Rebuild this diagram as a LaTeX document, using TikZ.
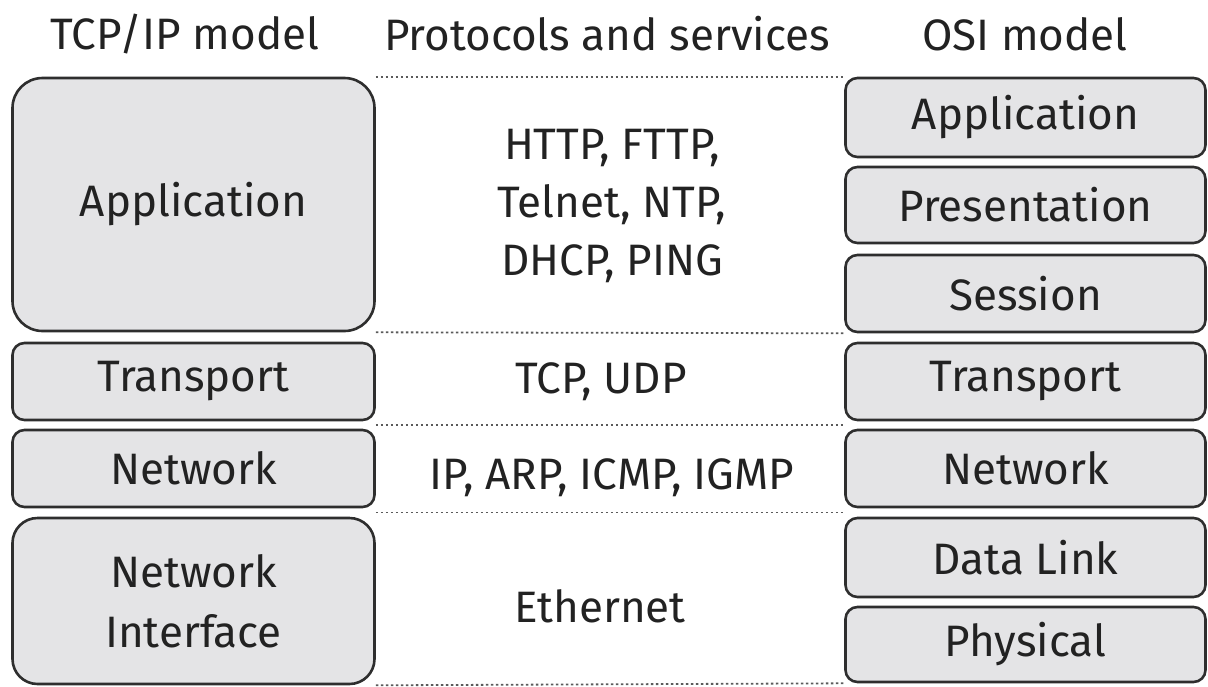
\documentclass[tikz,border=0pt]{standalone}
\usepackage{fontspec}
\setmainfont{Fira Sans}
\usetikzlibrary{calc}
\definecolor{boxfill}{HTML}{E4E4E6}
\definecolor{boxline}{HTML}{2E2E2E}
\definecolor{txt}{HTML}{222222}
\definecolor{dotline}{HTML}{5A5A5A}
\tikzset{
  layer/.style={draw=boxline, fill=boxfill, line width=2.6pt, rounded corners=12pt,
    inner sep=0pt, text=txt, font=\fontsize{44}{60}\selectfont, align=center},
  leftcol/.style={layer, minimum width=362pt},
  rightcol/.style={layer, minimum width=360pt},
  head/.style={text=txt, font=\fontsize{44}{54}\selectfont, inner sep=0pt},
  proto/.style={text=txt, font=\fontsize{44}{58}\selectfont, align=center, inner sep=0pt},
  sep/.style={draw=dotline, line width=1.8pt, dash pattern=on 2.5pt off 2.5pt}
}
\begin{document}
\begin{tikzpicture}[x=1pt, y=-1pt]
\useasboundingbox (0,0) rectangle (1208,686);
% headers
\node[head] (h1) at (185,34) {TCP/IP model};
\node[head] (h2) at (607,34) {Protocols and services};
\node[head] (h3) at (1025,34) {OSI model};
% TCP/IP column
\node[leftcol, minimum height=253pt, rounded corners=30pt] (tapp) at (193.5,204.5) {Application};
\node[leftcol, minimum height=77pt] (ttrans) at (193.5,381.5) {Transport};
\node[leftcol, minimum height=77pt] (tnet) at (193.5,468.5) {Network};
\node[leftcol, minimum height=166pt, rounded corners=25pt] (tni) at (193.5,601) {Network\\Interface};
% OSI column
\node[rightcol, minimum height=79pt] (oapp) at (1025.5,117.5) {Application};
\node[rightcol, minimum height=76pt] (opres) at (1025.5,205) {Presentation};
\node[rightcol, minimum height=77pt] (osess) at (1025.5,293.5) {Session};
\node[rightcol, minimum height=77pt] (otrans) at (1025.5,381.5) {Transport};
\node[rightcol, minimum height=77pt] (onet) at (1025.5,468.5) {Network};
\node[rightcol, minimum height=79pt] (odl) at (1025.5,557.5) {Data Link};
\node[rightcol, minimum height=75pt] (ophy) at (1025.5,644.5) {Physical};
% protocols
\node[proto] (papp) at (612,206) {HTTP, FTTP,\\Telnet, NTP,\\DHCP, PING};
\node[proto] (ptrans) at (601,382) {TCP, UDP};
\node[proto] (pnet) at (612,478) {IP, ARP, ICMP, IGMP};
\node[proto] (peth) at (600,606) {Ethernet};
% dotted separators
\draw[sep] (tapp.north east) -- (oapp.north west);
\draw[sep] (tapp.south east) -- (osess.south west);
\draw[sep] ($(ttrans.south east)!.5!(tnet.north east)$) -- ($(otrans.south west)!.5!(onet.north west)$);
\draw[sep] ($(tnet.south east)!.5!(tni.north east)$) -- ($(onet.south west)!.5!(odl.north west)$);
\draw[sep] (tni.south east) -- (ophy.south west);
\end{tikzpicture}
\end{document}
